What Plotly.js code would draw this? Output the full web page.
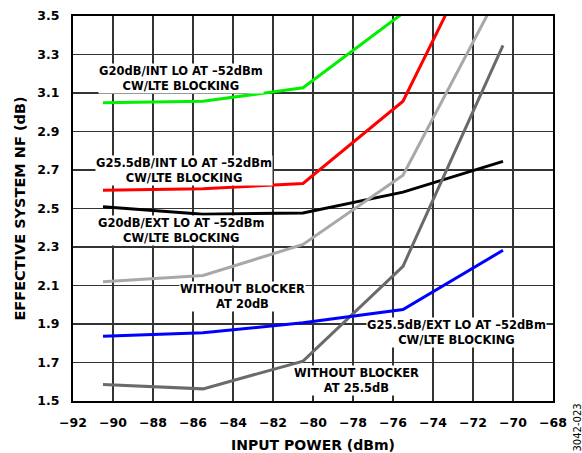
<!DOCTYPE html>
<html>
<head>
<meta charset="utf-8">
<script src="https://cdn.plot.ly/plotly-3.0.1.min.js"></script>
<style>
  html, body { margin: 0; padding: 0; background: #fff; }
  #chart { width: 582px; height: 453px; }
</style>
</head>
<body>
<div id="chart"></div>
<script>
// Input power sweep points (dBm)
const inputPower = [-90.5, -85.5, -80.5, -75.5, -70.5];

// Effective system NF (dB) for each configuration
const nfG20IntLo   = [3.05, 3.057, 3.127, 3.515];
const nfG255IntLo  = [2.595, 2.602, 2.63, 3.057, 4.11];
const nfG20ExtLo   = [2.509, 2.47, 2.477, 2.585, 2.745];
const nfNoBlock20  = [2.12, 2.152, 2.313, 2.673, 3.66];
const nfNoBlock255 = [1.586, 1.563, 1.707, 2.2, 3.347];
const nfG255ExtLo  = [1.837, 1.854, 1.906, 1.975, 2.283];

// Axis ticks
const xTicks = [-92, -90, -88, -86, -84, -82, -80, -78, -76, -74, -72, -70, -68];
const yTicks = [1.5, 1.7, 1.9, 2.1, 2.3, 2.5, 2.7, 2.9, 3.1, 3.3, 3.5];

// Curve labels
const lblG20IntLo   = 'G20dB/INT LO AT –52dBm<br>CW/LTE BLOCKING';
const lblG255IntLo  = 'G25.5dB/INT LO AT –52dBm<br>CW/LTE BLOCKING';
const lblG20ExtLo   = 'G20dB/EXT LO AT –52dBm<br>CW/LTE BLOCKING';
const lblNoBlock20  = 'WITHOUT BLOCKER<br>AT 20dB';
const lblG255ExtLo  = 'G25.5dB/EXT LO AT –52dBm<br>CW/LTE BLOCKING';
const lblNoBlock255 = 'WITHOUT BLOCKER<br>AT 25.5dB';
const figureId = '3042-023';

const FONT = 'DejaVu Sans, Arial, sans-serif';

function curve(y, color) {
  return {
    x: inputPower.slice(0, y.length),
    y: y,
    type: 'scatter',
    mode: 'lines',
    line: { color: color, width: 3 },
    hoverinfo: 'skip',
    showlegend: false
  };
}

const traces = [
  curve(nfG20IntLo, '#00f000'),
  curve(nfG255IntLo, '#ff0000'),
  curve(nfG20ExtLo, '#000000'),
  curve(nfNoBlock20, '#a8a8a8'),
  curve(nfNoBlock255, '#6a6a6a'),
  curve(nfG255ExtLo, '#0000ff')
];

// White-backed curve label, centred on (x, y)
function label(text, x, y) {
  return {
    text: text, x: x, y: y, xref: 'x', yref: 'y',
    xanchor: 'center', yanchor: 'middle',
    showarrow: false, bgcolor: '#ffffff', borderpad: 0,
    font: { family: FONT, size: 11.5, color: '#000', weight: 'bold' },
    align: 'center'
  };
}

const layout = {
  width: 582,
  height: 453,
  margin: { l: 73, r: 29, t: 16, b: 52 },
  paper_bgcolor: '#ffffff',
  plot_bgcolor: '#ffffff',
  font: { family: FONT, color: '#000' },
  xaxis: {
    range: [-92, -68],
    tickvals: xTicks,
    showgrid: true, gridcolor: '#333333', gridwidth: 1.5,
    zeroline: false,
    showline: true, linecolor: '#000', linewidth: 2, mirror: true,
    ticks: '', ticklabelstandoff: 9,
    tickfont: { family: FONT, size: 12.5, weight: 'bold', color: '#000' },
    title: { text: 'INPUT POWER (dBm)', standoff: 12,
             font: { family: FONT, size: 14, weight: 'bold', color: '#000' } }
  },
  yaxis: {
    range: [1.5, 3.5],
    tickvals: yTicks,
    tickformat: '.1f',
    showgrid: true, gridcolor: '#333333', gridwidth: 1.5,
    zeroline: false,
    showline: true, linecolor: '#000', linewidth: 2, mirror: true,
    ticks: '', ticklabelstandoff: 9,
    tickfont: { family: FONT, size: 12.5, weight: 'bold', color: '#000' },
    title: { text: 'EFFECTIVE SYSTEM NF (dB)', standoff: 8,
             font: { family: FONT, size: 14.5, weight: 'bold', color: '#000' } }
  },
  annotations: [
    label(lblG20IntLo, -86.6, 3.175),
    label(lblG255IntLo, -86.45, 2.697),
    label(lblG20ExtLo, -86.6, 2.386),
    label(lblNoBlock20, -83.55, 2.045),
    label(lblG255ExtLo, -72.85, 1.856),
    label(lblNoBlock255, -77.85, 1.604),
    {
      text: figureId, xref: 'paper', yref: 'paper', x: 1.052, y: -0.069,
      xanchor: 'center', yanchor: 'middle',
      showarrow: false, textangle: -90,
      font: { family: FONT, size: 10, color: '#000' }
    }
  ]
};

Plotly.newPlot('chart', traces, layout, { displayModeBar: false, staticPlot: true });
</script>
</body>
</html>
